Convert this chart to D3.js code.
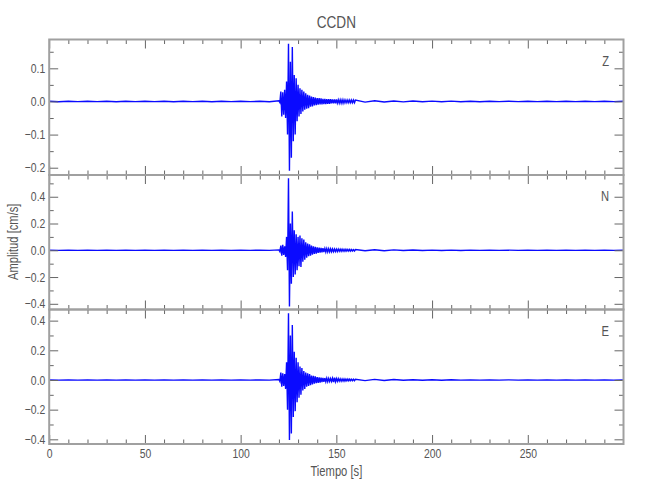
<!DOCTYPE html>
<html><head><meta charset="utf-8">
<script src="https://cdn.jsdelivr.net/npm/d3@7"></script>
<style>
body{margin:0;background:#fff}
text{font-family:"Liberation Sans","Arimo",sans-serif;fill:#555}
.nar{transform-box:fill-box;transform-origin:center;transform:scaleX(0.8)}
.narR{transform-box:fill-box;transform-origin:right center;transform:scaleX(0.8)}
</style>
</head><body>
<svg id="c" width="650" height="500"></svg>
<script>
// ---------------- data ----------------
const title = "CCDN";
const xLabel = "Tiempo [s]";
const yLabel = "Amplitud [cm/s]";
const components = ["Z", "N", "E"];

// sample times (s)
const times = [
  0,5,10,15,20,25,30,35,40,45,50,55,60,65,70,75,80,85,90,95,100,105,110,115,
  120,120.5,121,121.5,122,122.5,123,123.5,124,124.5,125,125.5,126,126.5,127,127.5,
  128,128.5,129,129.5,130,130.5,131,131.5,132,132.5,133,133.5,134,134.5,135,135.5,
  136,136.5,137,137.5,138,138.5,139,139.5,140,140.5,141,141.5,142,142.5,143,143.5,
  144,144.5,145,145.5,146,146.5,147,147.5,148,148.5,149,149.5,150,150.5,151,151.5,
  152,152.5,153,153.5,154,154.5,155,155.5,156,156.5,157,157.5,158,158.5,159,159.5,160,
  165,170,175,180,185,190,195,200,205,210,215,220,225,230,235,240,245,250,255,260,
  265,270,275,280,285,290,295,300
];

const ampZ = [
  0.0005,-0.0008,0.0006,-0.0005,0.0008,-0.0006,0.0005,-0.0008,0.0006,-0.0005,0.0008,-0.0006,
  0.0005,-0.0008,0.0006,-0.0006,0.0005,-0.0008,0.0006,-0.0005,0.0008,-0.0006,0.0005,-0.0008,
  0.002,-0.003,0.030,-0.045,0.028,-0.040,0.035,-0.050,0.060,-0.100,0.174,-0.209,
  0.120,-0.170,0.164,-0.120,0.080,-0.100,0.070,-0.060,0.050,-0.045,0.040,-0.038,
  0.035,-0.030,0.030,-0.025,0.025,-0.022,0.020,-0.020,0.018,-0.016,0.015,-0.015,
  0.013,-0.012,0.012,-0.011,0.010,-0.010,0.010,-0.009,0.009,-0.009,0.008,-0.008,
  0.008,-0.008,0.007,-0.007,0.007,-0.007,0.007,-0.006,0.006,-0.006,0.006,-0.006,
  0.006,-0.005,0.005,-0.005,0.005,-0.005,0.005,-0.005,0.005,-0.004,0.004,-0.004,
  0.004,-0.004,0.004,-0.004,0.004,-0.004,0.004,-0.004,0.004,
  -0.002,0.002,-0.0015,0.0015,-0.0012,0.0012,-0.001,0.001,-0.001,0.001,-0.0008,0.0008,
  -0.0008,0.0008,-0.0006,0.0006,-0.0006,0.0006,-0.0006,0.0006,-0.0006,0.0006,-0.0006,0.0006,
  -0.0006,0.0006,-0.0006,0.0005
];

const ampN = [
  0.0008,-0.001,0.001,-0.0008,0.001,-0.001,0.0008,-0.001,0.001,-0.0008,0.001,-0.001,
  0.0008,-0.001,0.001,-0.001,0.0008,-0.001,0.001,-0.0008,0.001,-0.001,0.001,-0.001,
  0.003,-0.010,0.035,-0.040,0.040,-0.035,0.030,-0.050,0.100,-0.150,0.538,-0.420,
  0.200,-0.250,0.290,-0.200,0.150,-0.180,0.120,-0.150,0.100,-0.120,0.110,-0.125,
  0.090,-0.085,0.080,-0.070,0.060,-0.055,0.050,-0.045,0.045,-0.040,0.035,-0.032,
  0.030,-0.028,0.026,-0.025,0.022,-0.020,0.020,-0.018,0.017,-0.016,0.015,-0.014,
  0.014,-0.013,0.013,-0.012,0.012,-0.012,0.011,-0.011,0.010,-0.010,0.010,-0.009,
  0.009,-0.009,0.009,-0.008,0.008,-0.008,0.008,-0.007,0.007,-0.007,0.007,-0.006,
  0.006,-0.006,0.006,-0.006,0.006,-0.005,0.005,-0.005,0.005,
  -0.004,0.004,-0.003,0.003,-0.002,0.002,-0.002,0.0015,-0.0015,0.0012,-0.0012,0.001,
  -0.001,0.001,-0.001,0.001,-0.001,0.001,-0.001,0.001,-0.001,0.001,-0.001,0.001,
  -0.001,0.001,-0.001,0.0008
];

const ampE = [
  0.0008,-0.001,0.001,-0.0008,0.001,-0.001,0.0008,-0.001,0.001,-0.0008,0.001,-0.001,
  0.0008,-0.001,0.001,-0.001,0.0008,-0.001,0.001,-0.0008,0.001,-0.001,0.001,-0.001,
  0.003,-0.010,0.050,-0.045,0.045,-0.040,0.040,-0.060,0.120,-0.200,0.450,-0.405,
  0.300,-0.360,0.370,-0.250,0.190,-0.210,0.150,-0.150,0.120,-0.120,0.090,-0.100,
  0.080,-0.070,0.060,-0.060,0.050,-0.045,0.045,-0.040,0.040,-0.035,0.030,-0.030,
  0.028,-0.025,0.025,-0.022,0.020,-0.020,0.018,-0.017,0.016,-0.015,0.014,-0.013,
  0.013,-0.012,0.012,-0.011,0.011,-0.010,0.010,-0.010,0.012,-0.014,0.015,-0.012,
  0.010,-0.009,0.009,-0.008,0.008,-0.008,0.007,-0.007,0.007,-0.007,0.006,-0.006,
  0.006,-0.006,0.006,-0.005,0.005,-0.005,0.005,-0.005,0.005,
  -0.004,0.004,-0.003,0.003,-0.002,0.002,-0.002,0.0015,-0.0015,0.0012,-0.0012,0.001,
  -0.001,0.001,-0.001,0.001,-0.001,0.001,-0.001,0.001,-0.001,0.001,-0.001,0.001,
  -0.001,0.001,-0.001,0.0008
];

const xDomain = [0, 300];
const xMajorTicks = [0, 50, 100, 150, 200, 250];
const xMinorTicks = [10,20,30,40,60,70,80,90,110,120,130,140,160,170,180,190,210,220,230,240,260,270,280,290];
const xTickLabels = ["0", "50", "100", "150", "200", "250"];

const yDomainZ = [-0.222, 0.187];
const yDomainN = [-0.4425, 0.5625];
const yDomainE = [-0.4315, 0.475];

const yMajorZ = [-0.2, -0.1, 0.0, 0.1];
const yMinorZ = [-0.15, -0.05, 0.05, 0.15];
const yLabelsZ = ["\u22120.2", "\u22120.1", "0.0", "0.1"];

const yMajorN = [-0.4, -0.2, 0.0, 0.2, 0.4];
const yMinorN = [-0.3, -0.1, 0.1, 0.3, 0.5];
const yLabelsN = ["\u22120.4", "\u22120.2", "0.0", "0.2", "0.4"];

const yMajorE = [-0.4, -0.2, 0.0, 0.2, 0.4];
const yMinorE = [-0.3, -0.1, 0.1, 0.3];
const yLabelsE = ["\u22120.4", "\u22120.2", "0.0", "0.2", "0.4"];

// ---------------- layout ----------------
const left = 49.2, right = 623.5;
const panelTops = [39.5, 175, 309.5];
const panelBottoms = [175, 309.5, 444];

const svg = d3.select("#c");
const x = d3.scaleLinear().domain(xDomain).range([left, right]);

const panels = [
  {name: components[0], amp: ampZ, dom: yDomainZ, maj: yMajorZ, min: yMinorZ, lab: yLabelsZ},
  {name: components[1], amp: ampN, dom: yDomainN, maj: yMajorN, min: yMinorN, lab: yLabelsN},
  {name: components[2], amp: ampE, dom: yDomainE, maj: yMajorE, min: yMinorE, lab: yLabelsE}
];

const tickCol = "#666", frameCol = "#a0a0a0";
const MAJ = 9, MIN = 4.5;

function styleAxis(cls) {
  return g => {
    g.select(".domain").remove();
    g.selectAll(".tick line").attr("stroke", tickCol).attr("stroke-width", 1);
    g.selectAll(".tick text").style("font-size", "13px").attr("fill", "#555")
      .attr("font-family", null).attr("class", cls || "nar");
  };
}

panels.forEach((p, i) => {
  const top = panelTops[i], bottom = panelBottoms[i];
  const y = d3.scaleLinear().domain(p.dom).range([bottom, top]);
  const clipId = "clip" + i;
  svg.append("clipPath").attr("id", clipId)
    .append("rect").attr("x", left).attr("y", top).attr("width", right - left).attr("height", bottom - top);

  const pts = times.map((t, k) => [t, p.amp[k]]);
  const line = d3.line().x(d => x(d[0])).y(d => y(d[1]));
  svg.append("path").datum(pts)
    .attr("clip-path", `url(#${clipId})`)
    .attr("d", line).attr("fill", "none")
    .attr("stroke", "#0a0aff").attr("stroke-width", 1.4).attr("stroke-linejoin", "miter");

  const isLast = i === panels.length - 1;
  svg.append("g").attr("transform", `translate(0,${bottom})`)
    .call(d3.axisBottom(x).tickValues(xMajorTicks).tickSize(-MAJ).tickPadding(5)
      .tickFormat(isLast ? ((d, k) => xTickLabels[k]) : () => ""))
    .call(styleAxis("nar"));
  svg.append("g").attr("transform", `translate(0,${bottom})`)
    .call(d3.axisBottom(x).tickValues(xMinorTicks).tickSize(-MIN).tickFormat(() => ""))
    .call(styleAxis());
  svg.append("g").attr("transform", `translate(0,${top})`)
    .call(d3.axisTop(x).tickValues(xMajorTicks).tickSize(-MAJ).tickFormat(() => ""))
    .call(styleAxis());
  svg.append("g").attr("transform", `translate(0,${top})`)
    .call(d3.axisTop(x).tickValues(xMinorTicks).tickSize(-MIN).tickFormat(() => ""))
    .call(styleAxis());

  svg.append("g").attr("transform", `translate(${left},0)`)
    .call(d3.axisLeft(y).tickValues(p.maj).tickSize(-MAJ).tickPadding(4).tickFormat((d, k) => p.lab[k]))
    .call(styleAxis("narR"));
  svg.append("g").attr("transform", `translate(${left},0)`)
    .call(d3.axisLeft(y).tickValues(p.min).tickSize(-MIN).tickFormat(() => ""))
    .call(styleAxis());
  svg.append("g").attr("transform", `translate(${right},0)`)
    .call(d3.axisRight(y).tickValues(p.maj).tickSize(-MAJ).tickFormat(() => ""))
    .call(styleAxis());
  svg.append("g").attr("transform", `translate(${right},0)`)
    .call(d3.axisRight(y).tickValues(p.min).tickSize(-MIN).tickFormat(() => ""))
    .call(styleAxis());

  svg.append("rect").attr("x", left).attr("y", top)
    .attr("width", right - left).attr("height", bottom - top)
    .attr("fill", "none").attr("stroke", frameCol).attr("stroke-width", 2);

  svg.append("text").attr("class", "narR").attr("x", 609).attr("y", top + 26.5)
    .attr("text-anchor", "end").style("font-size", "14px").text(p.name);
});

svg.append("text").attr("class", "nar").attr("x", (left + right) / 2).attr("y", 28.5)
  .attr("text-anchor", "middle").style("font-size", "17px").text(title);
svg.append("text").attr("class", "nar").attr("x", (left + right) / 2).attr("y", 476)
  .attr("text-anchor", "middle").style("font-size", "14px").text(xLabel);
svg.append("g").attr("transform", `translate(18,${(panelTops[0] + panelBottoms[2]) / 2}) rotate(-90)`)
  .append("text").attr("class", "nar")
  .attr("text-anchor", "middle").style("font-size", "14px").text(yLabel);
</script>
</body></html>
